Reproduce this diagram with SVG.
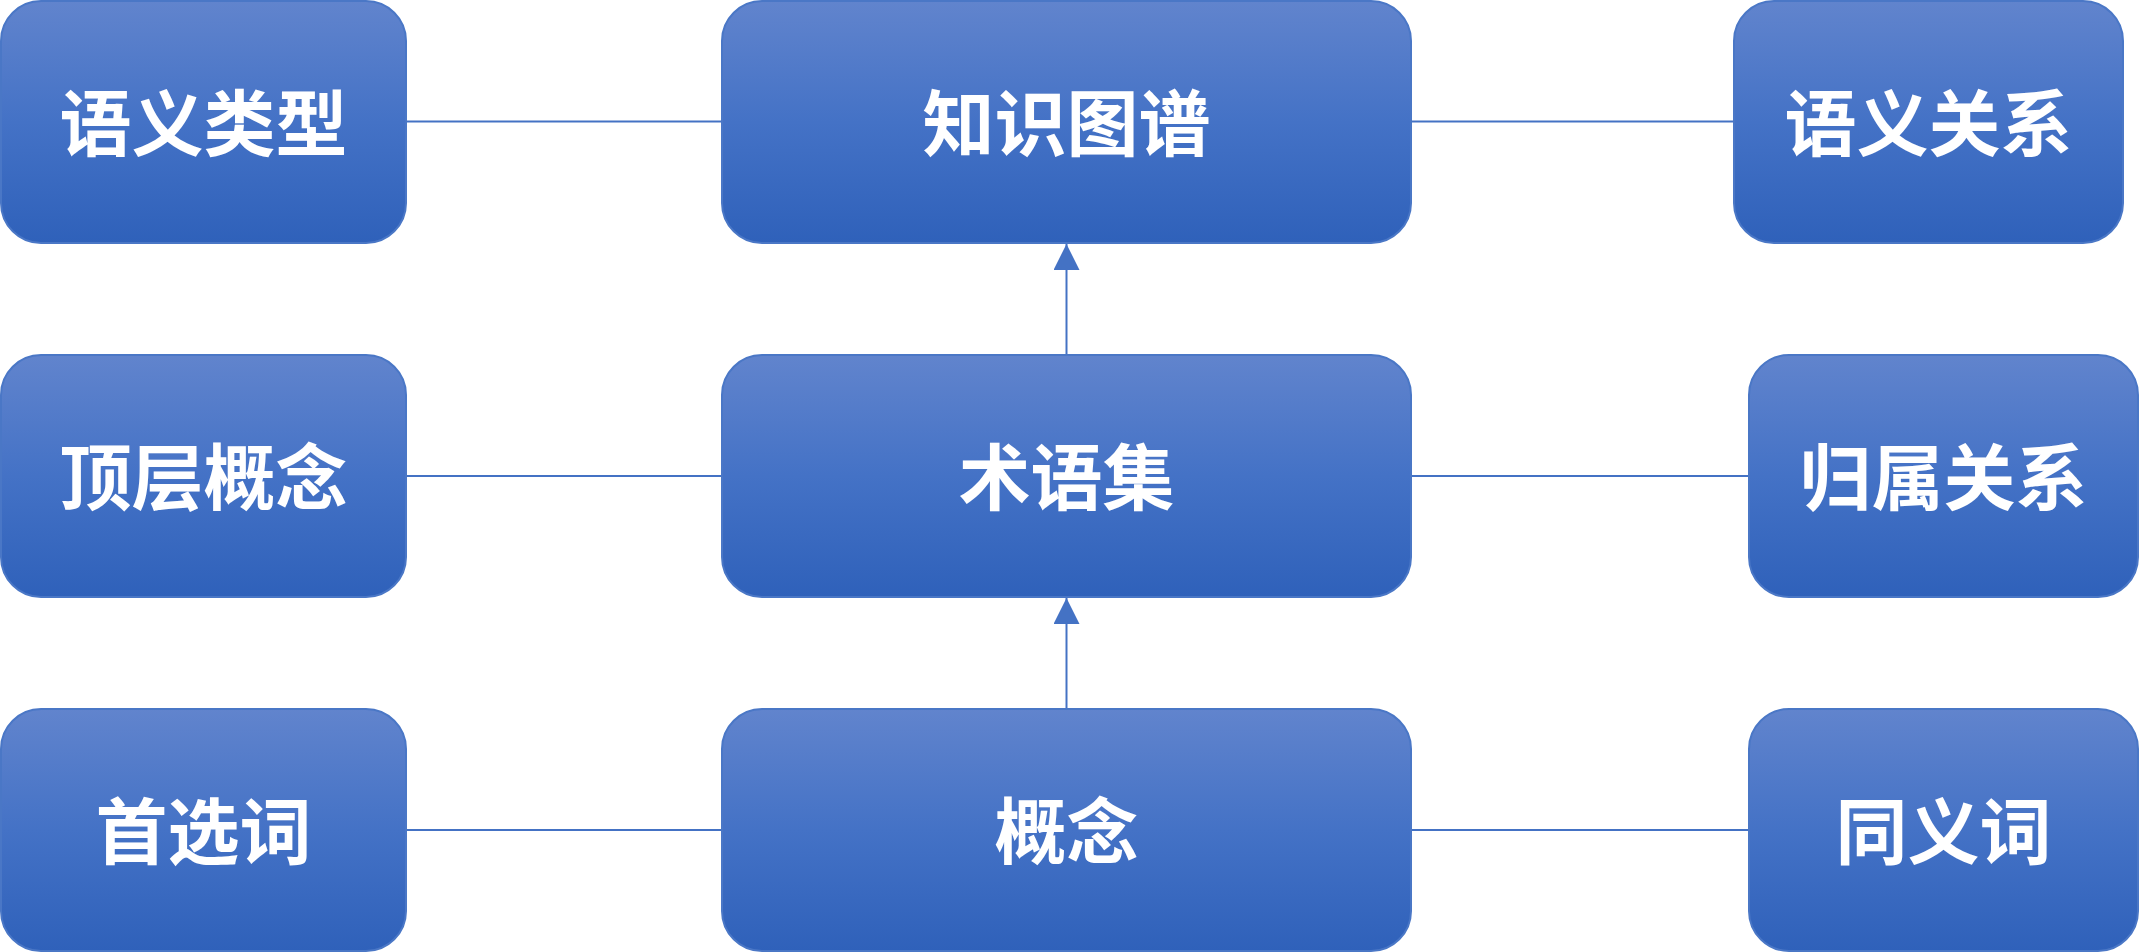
<svg xmlns="http://www.w3.org/2000/svg" width="2140" height="952" viewBox="0 0 2140 952">
<defs>
<linearGradient id="g" x1="0" y1="0" x2="0" y2="1">
<stop offset="0" stop-color="#6184CD"/>
<stop offset="0.5" stop-color="#4472C6"/>
<stop offset="1" stop-color="#2F61BA"/>
</linearGradient>
<marker id="arr" markerWidth="26" markerHeight="26" viewBox="0 0 26 26" refX="26" refY="13" orient="auto" markerUnits="userSpaceOnUse">
<path d="M0,0 L26,13 L0,26 Z" fill="#4472C4"/>
</marker>
<style>
.box{fill:url(#g);stroke:#4A77C6;stroke-width:2}
.lbl{fill:#FFFFFF;font-family:"Noto Sans CJK SC","Noto Sans",sans-serif;font-size:72px;font-weight:700;text-anchor:middle;dominant-baseline:central}
.ln{stroke:#4472C4;stroke-width:2;fill:none}
</style>
</defs>
<g id="connectors">
<line class="ln" x1="406" y1="121.5" x2="722" y2="121.5"/>
<line class="ln" x1="1411" y1="121.5" x2="1734" y2="121.5"/>
<line class="ln" x1="406" y1="476" x2="722" y2="476"/>
<line class="ln" x1="1411" y1="476" x2="1749" y2="476"/>
<line class="ln" x1="406" y1="830" x2="722" y2="830"/>
<line class="ln" x1="1411" y1="830" x2="1749" y2="830"/>
<line class="ln" x1="1066.5" y1="355" x2="1066.5" y2="244" marker-end="url(#arr)"/>
<line class="ln" x1="1066.5" y1="709" x2="1066.5" y2="598" marker-end="url(#arr)"/>
</g>
<g id="n-yuyileixing"><rect class="box" x="1" y="1" width="405" height="242" rx="40"/><text class="lbl" x="203.5" y="118">语义类型</text></g>
<g id="n-zhishitupu"><rect class="box" x="722" y="1" width="689" height="242" rx="40"/><text class="lbl" x="1066.5" y="118">知识图谱</text></g>
<g id="n-yuyiguanxi"><rect class="box" x="1734" y="1" width="389" height="242" rx="40"/><text class="lbl" x="1928.5" y="118">语义关系</text></g>
<g id="n-dingcenggainian"><rect class="box" x="1" y="355" width="405" height="242" rx="40"/><text class="lbl" x="203.5" y="472">顶层概念</text></g>
<g id="n-shuyuji"><rect class="box" x="722" y="355" width="689" height="242" rx="40"/><text class="lbl" x="1066.5" y="472">术语集</text></g>
<g id="n-guishuguanxi"><rect class="box" x="1749" y="355" width="389" height="242" rx="40"/><text class="lbl" x="1943.5" y="472">归属关系</text></g>
<g id="n-shouxuanci"><rect class="box" x="1" y="709" width="405" height="242" rx="40"/><text class="lbl" x="203.5" y="826">首选词</text></g>
<g id="n-gainian"><rect class="box" x="722" y="709" width="689" height="242" rx="40"/><text class="lbl" x="1066.5" y="826">概念</text></g>
<g id="n-tongyici"><rect class="box" x="1749" y="709" width="389" height="242" rx="40"/><text class="lbl" x="1943.5" y="826">同义词</text></g>
</svg>
